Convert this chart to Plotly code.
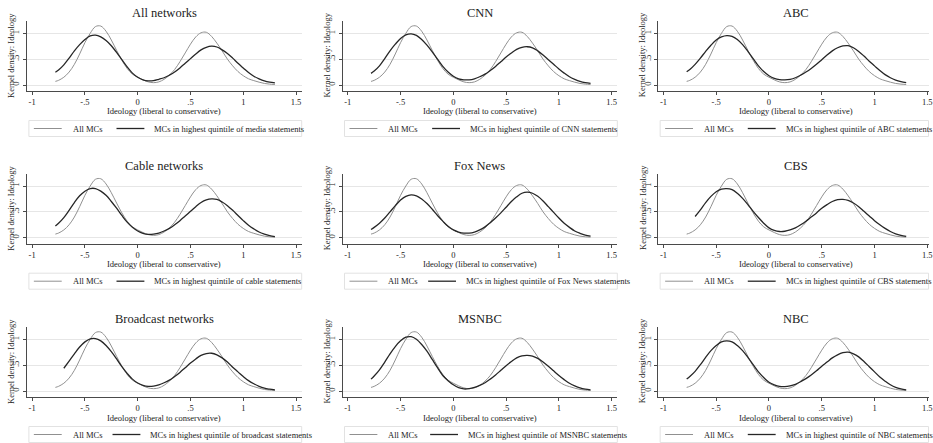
import plotly.graph_objects as go

# ---------------- data ----------------
ideology = [-0.78, -0.75, -0.7, -0.65, -0.6, -0.55, -0.5, -0.45, -0.4, -0.35, -0.3, -0.25,
            -0.2, -0.15, -0.1, -0.05, 0.0, 0.05, 0.1, 0.15, 0.2, 0.25, 0.3, 0.35, 0.4, 0.45,
            0.5, 0.55, 0.6, 0.65, 0.7, 0.75, 0.8, 0.85, 0.9, 0.95, 1.0, 1.05, 1.1, 1.15, 1.2,
            1.25, 1.3]

all_mcs = [0.07, 0.09, 0.15, 0.25, 0.40, 0.60, 0.82, 1.00, 1.13, 1.14, 1.04, 0.87, 0.67, 0.48,
           0.32, 0.21, 0.15, 0.10, 0.06, 0.045, 0.06, 0.11, 0.19, 0.30, 0.45, 0.62, 0.79, 0.93,
           1.01, 1.02, 0.94, 0.81, 0.66, 0.50, 0.37, 0.26, 0.18, 0.12, 0.085, 0.055, 0.03, 0.017, 0.01]

q_media = [0.245, 0.29, 0.39, 0.52, 0.66, 0.78, 0.88, 0.95, 0.965, 0.93, 0.86, 0.76, 0.63, 0.49,
           0.35, 0.23, 0.15, 0.10, 0.08, 0.085, 0.11, 0.14, 0.19, 0.25, 0.33, 0.42, 0.51, 0.60,
           0.68, 0.73, 0.75, 0.735, 0.68, 0.61, 0.52, 0.42, 0.33, 0.24, 0.17, 0.12, 0.08, 0.055, 0.04]
q_cnn = [0.225, 0.27, 0.37, 0.51, 0.66, 0.79, 0.90, 0.97, 0.99, 0.96, 0.88, 0.77, 0.64, 0.50,
         0.36, 0.25, 0.17, 0.12, 0.10, 0.10, 0.12, 0.16, 0.21, 0.28, 0.36, 0.45, 0.54, 0.62,
         0.69, 0.73, 0.74, 0.72, 0.66, 0.58, 0.49, 0.40, 0.31, 0.23, 0.16, 0.11, 0.07, 0.045, 0.03]
q_abc = [0.255, 0.30, 0.40, 0.52, 0.65, 0.77, 0.87, 0.93, 0.955, 0.94, 0.88, 0.78, 0.65, 0.51,
         0.37, 0.26, 0.18, 0.13, 0.105, 0.10, 0.11, 0.14, 0.19, 0.25, 0.32, 0.40, 0.49, 0.58,
         0.66, 0.72, 0.755, 0.76, 0.72, 0.65, 0.56, 0.46, 0.37, 0.28, 0.20, 0.14, 0.095, 0.065, 0.045]
q_cable = [0.225, 0.28, 0.39, 0.53, 0.68, 0.81, 0.90, 0.95, 0.95, 0.90, 0.82, 0.70, 0.57, 0.43,
           0.30, 0.20, 0.13, 0.085, 0.065, 0.07, 0.09, 0.13, 0.18, 0.25, 0.33, 0.42, 0.51, 0.60,
           0.68, 0.73, 0.75, 0.74, 0.69, 0.62, 0.53, 0.43, 0.33, 0.24, 0.17, 0.11, 0.07, 0.04, 0.02]
q_fox = [0.16, 0.20, 0.28, 0.38, 0.50, 0.62, 0.73, 0.80, 0.83, 0.81, 0.75, 0.66, 0.55, 0.43,
         0.32, 0.22, 0.15, 0.11, 0.09, 0.09, 0.11, 0.15, 0.21, 0.29, 0.38, 0.48, 0.59, 0.70,
         0.79, 0.86, 0.88, 0.86, 0.80, 0.71, 0.60, 0.49, 0.38, 0.28, 0.20, 0.13, 0.085, 0.05, 0.03]
q_cbs = [None, None, 0.41, 0.54, 0.68, 0.80, 0.89, 0.94, 0.95, 0.93, 0.86, 0.76, 0.64, 0.51,
         0.39, 0.28, 0.19, 0.14, 0.12, 0.125, 0.15, 0.19, 0.25, 0.32, 0.40, 0.48, 0.57, 0.64,
         0.70, 0.735, 0.74, 0.72, 0.67, 0.60, 0.51, 0.42, 0.33, 0.25, 0.18, 0.12, 0.075, 0.045, 0.025]
q_broadcast = [None, None, 0.44, 0.58, 0.72, 0.85, 0.95, 1.01, 1.015, 0.97, 0.88, 0.76, 0.62, 0.47,
               0.34, 0.23, 0.155, 0.11, 0.09, 0.095, 0.12, 0.16, 0.21, 0.28, 0.36, 0.45, 0.54, 0.62,
               0.69, 0.725, 0.73, 0.70, 0.64, 0.56, 0.46, 0.37, 0.28, 0.20, 0.14, 0.09, 0.055, 0.035, 0.02]
q_msnbc = [0.23, 0.29, 0.41, 0.56, 0.72, 0.86, 0.97, 1.04, 1.05, 1.00, 0.90, 0.77, 0.61, 0.45,
           0.30, 0.20, 0.12, 0.065, 0.04, 0.045, 0.07, 0.11, 0.16, 0.23, 0.31, 0.40, 0.49, 0.57,
           0.64, 0.68, 0.69, 0.675, 0.63, 0.56, 0.48, 0.39, 0.30, 0.22, 0.15, 0.10, 0.06, 0.035, 0.02]
q_nbc = [0.23, 0.28, 0.38, 0.51, 0.65, 0.78, 0.88, 0.95, 0.97, 0.95, 0.88, 0.78, 0.65, 0.51,
         0.37, 0.26, 0.17, 0.12, 0.09, 0.085, 0.10, 0.13, 0.18, 0.24, 0.31, 0.39, 0.48, 0.56,
         0.64, 0.70, 0.74, 0.75, 0.72, 0.66, 0.57, 0.47, 0.37, 0.27, 0.19, 0.12, 0.07, 0.04, 0.02]

panel_titles = ["All networks", "CNN", "ABC", "Cable networks", "Fox News", "CBS",
                "Broadcast networks", "MSNBC", "NBC"]
panel_groups = ["media", "CNN", "ABC", "cable", "Fox News", "CBS", "broadcast", "MSNBC", "NBC"]
panel_series = [q_media, q_cnn, q_abc, q_cable, q_fox, q_cbs, q_broadcast, q_msnbc, q_nbc]

x_tickvals = [-1, -0.5, 0, 0.5, 1, 1.5]
x_ticktext = ["-1", "-.5", "0", ".5", "1", "1.5"]
y_tickvals = [0, 0.5, 1]
y_ticktext = ["0", ".5", "1"]

# ---------------- layout geometry (pixels) ----------------
W, H = 933, 443
FONT = "Liberation Serif"
GRAY = "#909090"
DARK = "#262626"
AXC = "#4a4a4a"

col_left = [27, 344, 661]
plot_w = 276
row_zero = [85, 237.7, 391]
unit_y = 51.7
y_lo, y_hi = -0.116, 1.235
x_lo = -1.05
key2_shift = [0, 0, 0, 0, -4, 0, -4, -2, 0]


def px(x):
    return x / W


def py(y):
    return 1 - y / H


fig = go.Figure()
annotations = []
shapes = []
layout_axes = {}

for i in range(9):
    r, c = divmod(i, 3)
    L = col_left[c]
    R = min(L + plot_w, W)
    z = row_zero[r]
    top = z - y_hi * unit_y
    bot = z - y_lo * unit_y
    x_hi = x_lo + (R - L) / 106.0
    sfx = "" if i == 0 else str(i + 1)

    layout_axes["xaxis" + sfx] = dict(
        domain=[px(L), px(R)], range=[x_lo, x_hi], anchor="y" + sfx,
        tickvals=x_tickvals, ticktext=x_ticktext, ticks="outside", ticklen=3,
        tickcolor=AXC, showline=True, linecolor=AXC, linewidth=1,
        showgrid=False, zeroline=False, ticklabeloverflow="allow",
        tickfont=dict(family=FONT, size=8.5, color="#222"))
    layout_axes["yaxis" + sfx] = dict(
        domain=[py(bot), py(top)], range=[y_lo, y_hi], anchor="x" + sfx,
        tickvals=y_tickvals, ticktext=y_ticktext, ticks="outside", ticklen=3,
        tickcolor=AXC, tickangle=-90, showline=True, linecolor=AXC, linewidth=1,
        showgrid=True, gridcolor="#e6e6e6", gridwidth=1, zeroline=False,
        tickfont=dict(family=FONT, size=8.5, color="#222"))

    fig.add_trace(go.Scatter(x=ideology, y=all_mcs, mode="lines", line_shape="spline",
                             line=dict(color=GRAY, width=1.0), name="All MCs",
                             showlegend=False, xaxis="x" + sfx, yaxis="y" + sfx))
    fig.add_trace(go.Scatter(x=ideology, y=panel_series[i], mode="lines", line_shape="spline",
                             line=dict(color=DARK, width=1.3),
                             name="MCs in highest quintile of %s statements" % panel_groups[i],
                             showlegend=False, xaxis="x" + sfx, yaxis="y" + sfx,
                             connectgaps=False))

    cx = L + plot_w / 2.0
    # panel title
    annotations.append(dict(x=px(cx), y=py(z - 72), xref="paper", yref="paper",
                            text=panel_titles[i], showarrow=False, xanchor="center",
                            yanchor="middle", font=dict(family=FONT, size=12.5, color="#222")))
    # x-axis title
    annotations.append(dict(x=px(cx), y=py(z + 26.5), xref="paper", yref="paper",
                            text="Ideology (liberal to conservative)", showarrow=False,
                            xanchor="center", yanchor="middle",
                            font=dict(family=FONT, size=8.5, color="#222")))
    # y-axis title
    annotations.append(dict(x=px(L - 16), y=py(z - 30), xref="paper", yref="paper",
                            text="Kernel density: Ideology", showarrow=False, textangle=-90,
                            xanchor="center", yanchor="middle",
                            font=dict(family=FONT, size=8.5, color="#222")))
    # legend box
    ly = z + 43.5
    shapes.append(dict(type="rect", xref="paper", yref="paper",
                       x0=px(L + 2), x1=px(min(L + plot_w, W - 0.5)),
                       y0=py(ly - 8), y1=py(ly + 8),
                       line=dict(color="#e2e2e2", width=1), fillcolor="white", layer="below"))
    shapes.append(dict(type="line", xref="paper", yref="paper",
                       x0=px(L + 7), x1=px(L + 35), y0=py(ly), y1=py(ly),
                       line=dict(color=GRAY, width=1.0)))
    annotations.append(dict(x=px(L + 44), y=py(ly), xref="paper", yref="paper",
                            text="All MCs", showarrow=False, xanchor="left", yanchor="middle",
                            font=dict(family=FONT, size=8.5, color="#222")))
    s = key2_shift[i]
    shapes.append(dict(type="line", xref="paper", yref="paper",
                       x0=px(L + 90 + s), x1=px(L + 118 + s), y0=py(ly), y1=py(ly),
                       line=dict(color=DARK, width=1.3)))
    annotations.append(dict(x=px(L + 126 + s), y=py(ly), xref="paper", yref="paper",
                            text="MCs in highest quintile of %s statements" % panel_groups[i],
                            showarrow=False, xanchor="left", yanchor="middle",
                            font=dict(family=FONT, size=8.5, color="#222")))

fig.update_layout(
    width=W, height=H, margin=dict(l=0, r=0, t=0, b=0),
    paper_bgcolor="white", plot_bgcolor="white", showlegend=False,
    annotations=annotations, shapes=shapes,
    font=dict(family=FONT, size=8.5, color="#222"),
    **layout_axes)

fig.write_html("out.html")
